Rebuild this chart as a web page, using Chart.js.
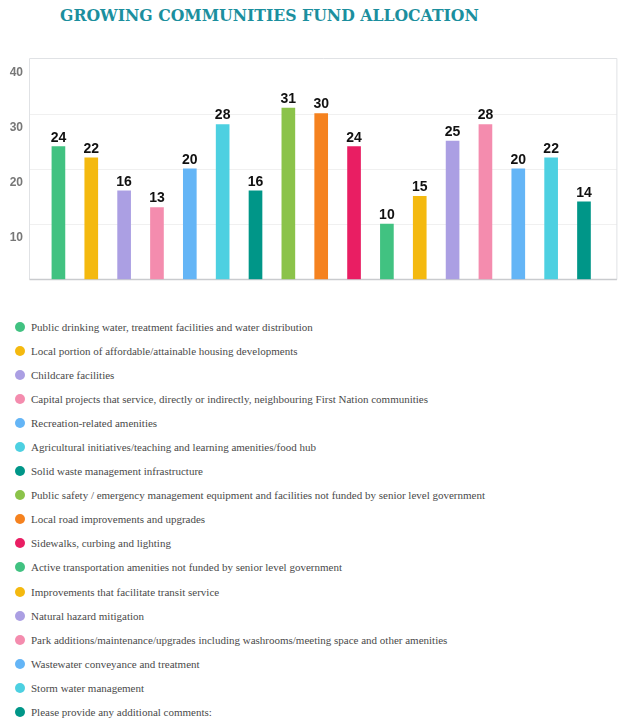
<!DOCTYPE html>
<html>
<head>
<meta charset="utf-8">
<script src="https://cdn.jsdelivr.net/npm/chart.js@4/dist/chart.umd.min.js"></script>
<style>
    body { margin: 0; background: #fff; width: 624px; height: 726px; position: relative; overflow: hidden; }
    #title {
        position: absolute; left: 60px; top: 2px;
        font-family: "DejaVu Serif", serif; font-weight: bold; font-size: 16.5px;
        line-height: 28px; color: #1b8f9e; white-space: nowrap;
        transform: scaleX(0.95); transform-origin: left center;
    }
    #chartCanvas { position: absolute; left: 0; top: 0; }
    #legend { position: absolute; left: 0; top: 315px; width: 624px; }
    .legend-item { display: flex; align-items: center; height: 24.06px; }
    .legend-dot { width: 10px; height: 10px; border-radius: 50%; margin-left: 15px; margin-right: 6px; flex: none; }
    .legend-text { font-family: "Liberation Serif", serif; font-size: 11px; color: #4a4a4a; white-space: nowrap; }
</style>
</head>
<body>
<div id="title">GROWING COMMUNITIES FUND ALLOCATION</div>
<canvas id="chartCanvas" width="624" height="300"></canvas>
<div id="legend"></div>

<script>
const categories = [
    'Public drinking water, treatment facilities and water distribution',
    'Local portion of affordable/attainable housing developments',
    'Childcare facilities',
    'Capital projects that service, directly or indirectly, neighbouring First Nation communities',
    'Recreation-related amenities',
    'Agricultural initiatives/teaching and learning amenities/food hub',
    'Solid waste management infrastructure',
    'Public safety / emergency management equipment and facilities not funded by senior level government',
    'Local road improvements and upgrades',
    'Sidewalks, curbing and lighting',
    'Active transportation amenities not funded by senior level government',
    'Improvements that facilitate transit service',
    'Natural hazard mitigation',
    'Park additions/maintenance/upgrades including washrooms/meeting space and other amenities',
    'Wastewater conveyance and treatment',
    'Storm water management',
    'Please provide any additional comments:'
];
const votes = [24, 22, 16, 13, 20, 28, 16, 31, 30, 24, 10, 15, 25, 28, 20, 22, 14];
const barColors = [
    '#41c281', '#f4b90f', '#ab9fe3', '#f48cae', '#64b5f6', '#4dd0e1', '#009688', '#8bc34a',
    '#f5821f', '#e91e63', '#41c281', '#f4b90f', '#ab9fe3', '#f48cae', '#64b5f6', '#4dd0e1', '#009688'
];
const yTicks = [0, 10, 20, 30, 40];

// frame, faint grid lines and the numbers above each bar
const framePlugin = {
    id: 'frame',
    beforeDatasetsDraw(chart) {
        const { ctx, chartArea: a, scales: { y } } = chart;
        const left = a.left - 12.5;
        const right = a.right + 16.5;
        ctx.save();
        ctx.lineWidth = 1;
        ctx.strokeStyle = '#f0f0f0';
        y.ticks.forEach((t) => {
            if (t.value === y.min || t.value === y.max) return;
            const py = Math.round(y.getPixelForValue(t.value)) + 0.5;
            ctx.beginPath();
            ctx.moveTo(left, py);
            ctx.lineTo(right, py);
            ctx.stroke();
        });
        const top = Math.round(a.top) + 0.5;
        const bottom = Math.round(a.bottom) + 0.5;
        ctx.strokeStyle = '#e0e2e5';
        ctx.beginPath();
        ctx.moveTo(left, bottom);
        ctx.lineTo(left, top);
        ctx.lineTo(right, top);
        ctx.lineTo(right, bottom);
        ctx.stroke();
        ctx.strokeStyle = '#c9cbce';
        ctx.lineWidth = 1.5;
        ctx.beginPath();
        ctx.moveTo(left, bottom);
        ctx.lineTo(right, bottom);
        ctx.stroke();
        ctx.restore();
    },
    afterDatasetsDraw(chart) {
        const { ctx } = chart;
        const meta = chart.getDatasetMeta(0);
        ctx.save();
        ctx.font = 'bold 14px "Liberation Sans", Arial, sans-serif';
        ctx.fillStyle = '#111';
        ctx.textAlign = 'center';
        ctx.textBaseline = 'middle';
        meta.data.forEach((bar, i) => {
            ctx.fillText(String(votes[i]), bar.x, bar.y - 9);
        });
        ctx.restore();
    }
};

new Chart(document.getElementById('chartCanvas'), {
    type: 'bar',
    data: {
        labels: categories,
        datasets: [{
            data: votes,
            backgroundColor: barColors,
            borderWidth: 0,
            barThickness: 13
        }]
    },
    options: {
        responsive: false,
        animation: false,
        devicePixelRatio: 1,
        layout: { padding: { left: 0, right: 23.6, top: 58.3, bottom: 20.7 } },
        plugins: { legend: { display: false }, tooltip: { enabled: false } },
        scales: {
            x: { display: false },
            y: {
                min: yTicks[0],
                max: yTicks[yTicks.length - 1],
                afterBuildTicks: (scale) => { scale.ticks = yTicks.map((v) => ({ value: v })); },
                afterFit: (scale) => {
                    scale.width = 42;
                    scale.paddingTop = 0;
                    scale.paddingBottom = 0;
                },
                grid: { display: false, drawTicks: false, tickLength: 0 },
                border: { display: false },
                ticks: {
                    padding: 19,
                    labelOffset: 14,
                    color: '#777',
                    font: { family: '"Liberation Sans", Arial, sans-serif', size: 12, weight: 'bold' },
                    callback: (v) => (v === 0 ? '' : v)
                }
            }
        }
    },
    plugins: [framePlugin]
});

const legendBox = document.getElementById('legend');
categories.forEach((name, i) => {
    const item = document.createElement('div');
    item.className = 'legend-item';
    item.innerHTML = `<span class="legend-dot" style="background:${barColors[i]}"></span><span class="legend-text">${name}</span>`;
    legendBox.appendChild(item);
});
</script>
</body>
</html>
